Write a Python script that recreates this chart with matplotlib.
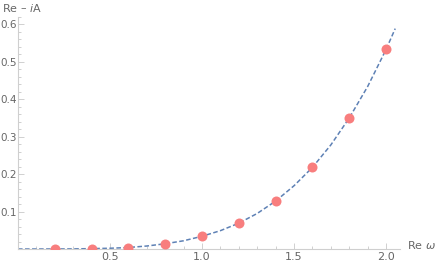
import matplotlib
matplotlib.use("Agg")
import matplotlib.pyplot as plt
from matplotlib.ticker import MultipleLocator

# sampled points (Re omega, Re - iA)
pts_x = [0.2, 0.4, 0.6, 0.8, 1.0, 1.2, 1.4, 1.6, 1.8, 2.0]
pts_y = [0.0001, 0.001, 0.004, 0.014, 0.035, 0.070, 0.128, 0.218, 0.350, 0.535]

# dashed curve
curve_x = [0.0, 0.1, 0.2, 0.3, 0.4, 0.5, 0.6, 0.7, 0.8, 0.9, 1.0, 1.1,
           1.2, 1.3, 1.4, 1.5, 1.6, 1.7, 1.8, 1.9, 2.0, 2.05]
curve_y = [0.0, 0.0, 0.0001, 0.0003, 0.001, 0.002, 0.004, 0.008, 0.014,
           0.022, 0.034, 0.049, 0.069, 0.095, 0.128, 0.169, 0.218, 0.278,
           0.350, 0.434, 0.533, 0.589]

xticks = [0.5, 1.0, 1.5, 2.0]
yticks = [0.1, 0.2, 0.3, 0.4, 0.5, 0.6]

fig = plt.figure(figsize=(4.36, 2.64), dpi=100)
ax = fig.add_axes([18 / 436, 15 / 264, 382 / 436, 232 / 264])

ax.plot(curve_x, curve_y, color="#5E81B5", lw=1.1, ls=(0, (3, 1.6)), zorder=2)
ax.plot(pts_x, pts_y, "o", color="#F87E7E", ms=7.2, mew=0, zorder=3)

ax.set_xlim(0, 2.076)
ax.set_ylim(0, 0.62)

for s in ["top", "right"]:
    ax.spines[s].set_visible(False)
for s in ["left", "bottom"]:
    ax.spines[s].set_color("#cfcfcf")
    ax.spines[s].set_linewidth(0.8)

ax.set_xticks(xticks)
ax.set_xticklabels([f"{v:.1f}" for v in xticks])
ax.set_yticks(yticks)
ax.set_yticklabels([f"{v:.1f}" for v in yticks])
ax.xaxis.set_minor_locator(MultipleLocator(0.1))
ax.yaxis.set_minor_locator(MultipleLocator(0.02))
ax.tick_params(which="both", direction="in", color="#d0d0d0", width=0.7,
               labelsize=8, labelcolor="#666666", pad=2)
ax.tick_params(axis="y", which="major", labelsize=7.5, pad=1)
ax.tick_params(which="major", length=4)
ax.tick_params(which="minor", length=2.2)

fig.text(2 / 436, 1 - 8 / 264, r"Re – $\mathit{i}$A", fontsize=8,
         color="#666666", va="center", ha="left")
fig.text(407 / 436, 1 - 245 / 264, r"Re $\mathit{\omega}$", fontsize=8,
         color="#666666", va="center", ha="left")

fig.savefig("out.png", dpi=100)
